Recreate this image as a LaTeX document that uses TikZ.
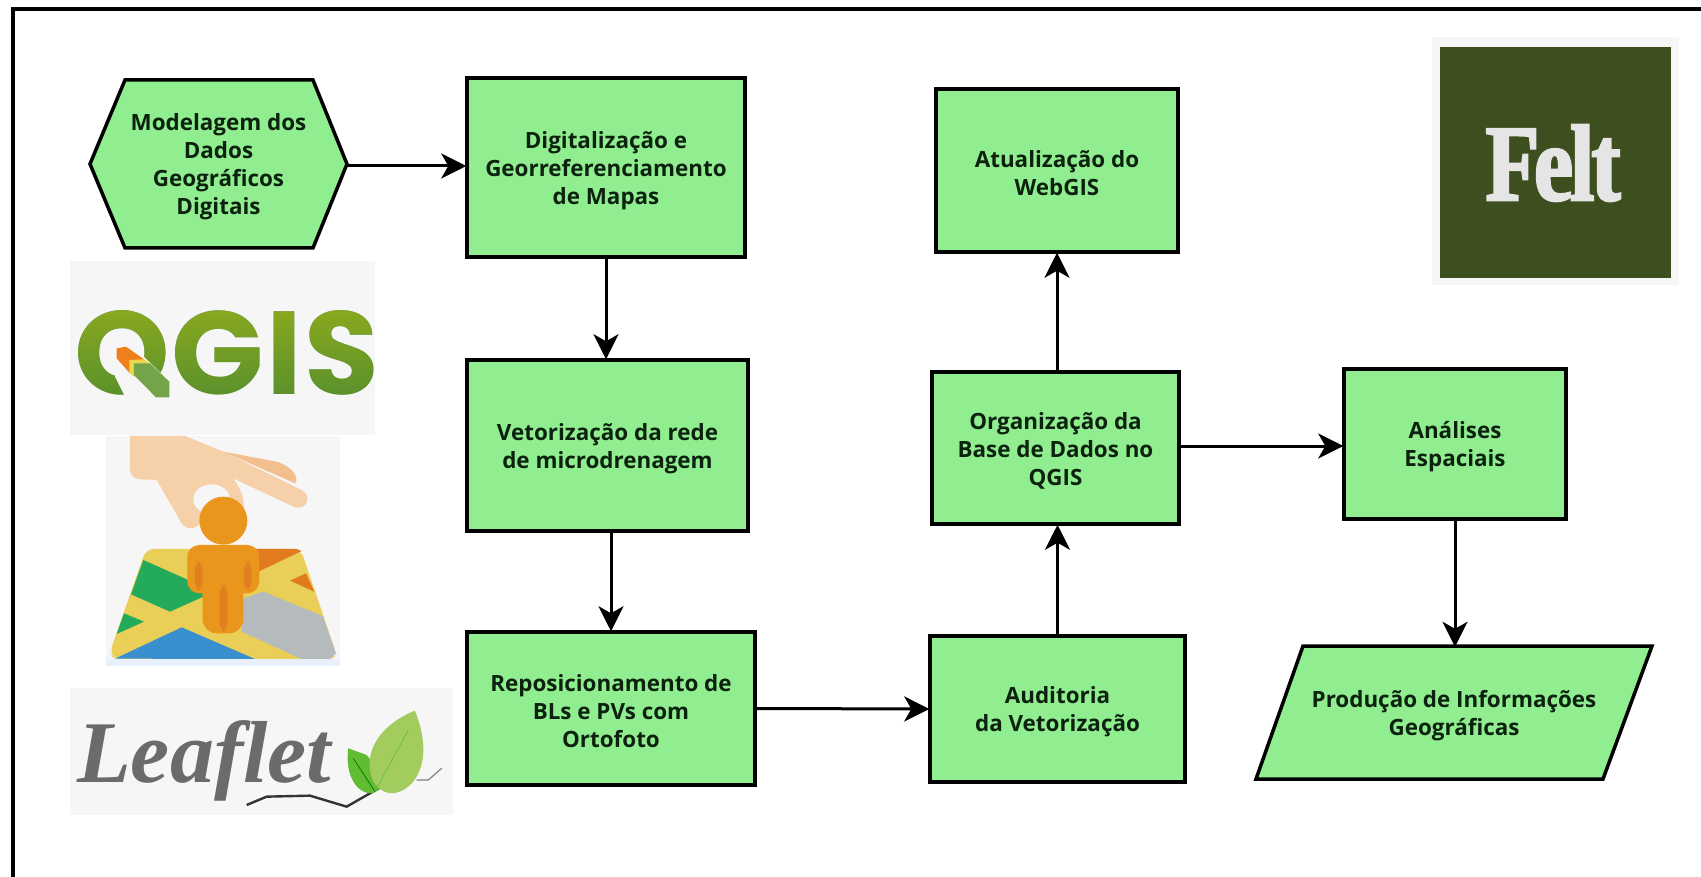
\documentclass[tikz,border=0pt]{standalone}
\usepackage{fontspec}
\setmainfont{Liberation Sans}
\newfontfamily\boxfont{Open Sans}
\newfontfamily\qgisfont{Poppins}
\newfontfamily\feltfont{Liberation Serif}[BoldFeatures={FakeBold=2.5}]
\newfontfamily\leaffont{Liberation Serif}
\usetikzlibrary{arrows.meta,calc}
\newcommand{\firstlinenudge}{\rule{0pt}{23pt}}
\definecolor{boxgreen}{HTML}{90EE90}
\definecolor{inkdark}{HTML}{0C220E}
\definecolor{panelgrey}{HTML}{F6F6F6}
\definecolor{paneledge}{HTML}{E8F0FB}
\definecolor{handskin}{HTML}{F5D0A9}
\definecolor{handshade}{HTML}{F3BF8F}
\definecolor{mapyellow}{HTML}{E9CE58}
\definecolor{mapgreen}{HTML}{23AB5B}
\definecolor{mapblue}{HTML}{3A8FCF}
\definecolor{mapgrey}{HTML}{B5BABD}
\definecolor{maporange}{HTML}{E07B1E}
\definecolor{personorange}{HTML}{EA961C}
\definecolor{personshade}{HTML}{E07F1E}
\definecolor{qorange}{HTML}{EF7F1C}
\definecolor{qyellow}{HTML}{EBD84A}
\definecolor{qgreen}{HTML}{73A44A}
\definecolor{qgistop}{HTML}{8BAA1E}
\definecolor{qgisbot}{HTML}{588F2C}
\definecolor{qgisink}{HTML}{588C1E}
\definecolor{leafgrey}{HTML}{6B6B6B}
\definecolor{leafdark}{HTML}{62BC33}
\definecolor{leaflight}{HTML}{A2CC5E}
\definecolor{feltbg}{HTML}{3D4F1E}
\definecolor{feltink}{HTML}{E5E5E5}
\tikzset{
  flowbox/.style={draw=black,line width=3.5pt,fill=boxgreen,text=inkdark,align=center,inner sep=0pt,
    font=\boxfont\bfseries\fontsize{22.4}{28}\selectfont},
  flowshape/.style={draw=black,line width=3.5pt,fill=boxgreen,line join=miter},
  flowtext/.style={text=inkdark,align=center,inner sep=0pt,
    font=\boxfont\bfseries\fontsize{22.4}{28}\selectfont},
  flowarrow/.style={draw=black,line width=3pt,-{Stealth[length=25pt,width=25pt,inset=7pt]},shorten >=-1pt},
  zoomscope/.style={x=0.33333pt,y=-0.33333pt},
}
\begin{document}
\begin{tikzpicture}[x=1pt,y=-1pt]
\useasboundingbox (0,0) rectangle (1701,877);
\fill[white] (0,0) rectangle (1701,877);
% outer frame (left and top only are in the picture)
\draw[black,line width=3.6pt] (13,877) -- (13,9) -- (1701,9);

% ---- flow shapes
\path[flowshape] (125,80) -- (313,80) -- (347,164) -- (313,248) -- (125,248) -- (90,164) -- cycle;
\node[flowtext,minimum width=257pt,minimum height=168pt] (hex) at (218.5,164)
  {\firstlinenudge Modelagem dos\\Dados\\Geográficos\\Digitais};
\node[flowbox,minimum width=278pt,minimum height=179pt] (dig) at (606,167.5)
  {\firstlinenudge Digitalização e\\Georreferenciamento\\de Mapas};
\node[flowbox,minimum width=281pt,minimum height=171pt] (vet) at (607.5,445.5)
  {\firstlinenudge Vetorização da rede\\de microdrenagem};
\node[flowbox,minimum width=288pt,minimum height=153pt] (rep) at (611,708.5)
  {\firstlinenudge Reposicionamento de\\BLs e PVs com\\Ortofoto};
\node[flowbox,minimum width=255pt,minimum height=146pt] (aud) at (1057.5,709)
  {\firstlinenudge Auditoria\\da Vetorização};
\node[flowbox,minimum width=247pt,minimum height=152pt] (org) at (1055.5,448)
  {\firstlinenudge Organização da\\Base de Dados no\\QGIS};
\node[flowbox,minimum width=242pt,minimum height=163pt] (atu) at (1057,170.5)
  {\firstlinenudge Atualização do\\WebGIS};
\node[flowbox,minimum width=222pt,minimum height=150pt] (ana) at (1455,444)
  {\firstlinenudge Análises\\Espaciais};
\path[flowshape] (1303,646) -- (1652,646) -- (1603,779) -- (1256,779) -- cycle;
\node[flowtext,minimum width=349pt,minimum height=133pt] (pro) at (1454,712.5)
  {\firstlinenudge Produção de Informações\\Geográficas};

% ---- connectors
\draw[flowarrow] (hex.east |- {$(dig.west)+(0,-1.5)$}) -- ($(dig.west)+(0,-1.5)$);
\draw[flowarrow] (dig.south) -- (dig.south |- vet.north);
\draw[flowarrow] (rep.north |- vet.south) -- (rep.north);
\draw[flowarrow] (rep.east) -- (aud.west);
\draw[flowarrow] (aud.north) -- (aud.north |- org.south);
\draw[flowarrow] (atu.south |- org.north) -- (atu.south);
\draw[flowarrow] ($(org.east |- ana.west)+(0,2)$) -- ($(ana.west)+(0,2)$);
\draw[flowarrow] (ana.south) -- (ana.south |- pro.north);

% ---- QGIS logo
\fill[panelgrey] (70,261) rectangle (375,435);
\node[anchor=base west,inner sep=0pt,text=qgisink,
  font=\qgisfont\bfseries\fontsize{118}{118}\selectfont] (qgislogo) at (74,395)
  {\scalebox{1.03}[1]{Q\kern2pt G\kern2pt I\kern2pt S}};
\begin{scope}[blend mode=lighten]
  \shade[top color=qgistop,bottom color=qgisbot] (70,305) rectangle (375,400);
\end{scope}
\begin{scope}[zoomscope]
  \fill[panelgrey] (345,1040) -- (400,1040) -- (525,1160) -- (530,1240) -- (400,1240) -- (345,1130) -- cycle;
  \fill[qorange] (350,1045) -- (378,1040) -- (432,1078) -- (388,1118) -- (350,1075) -- cycle;
  \fill[qyellow] (388,1080) -- (432,1078) -- (450,1090) -- (402,1130) -- (388,1118) -- cycle;
  \fill[qgreen] (402,1090) -- (450,1090) -- (508,1145) -- (508,1192) -- (468,1192) -- (402,1125) -- cycle;
\end{scope}

% ---- person-on-map icon
\begin{scope}[zoomscope,shift={(0,1290)}]
  \fill[panelgrey] (318,18) rectangle (1020,707);
  \fill[paneledge] (318,688) rectangle (1020,707);
  % hand
  \fill[handskin]
    (390,18) -- (555,18) -- (670,65) -- (905,180) .. controls (935,195) and (925,240) .. (885,232)
    -- (700,145) .. controls (725,180) and (735,210) .. (730,240) -- (600,280)
    .. controls (585,300) and (560,300) .. (545,280) -- (470,150) -- (425,148)
    .. controls (400,148) and (390,135) .. (390,115) -- cycle;
  \fill[panelgrey] (635,208) ellipse [x radius=55,y radius=45];
  \fill[handshade]
    (670,65) -- (830,95) .. controls (890,115) and (895,150) .. (885,160) -- cycle;
  % map
  \fill[mapyellow,rounded corners=8pt]
    (438,357) -- (902,357) -- (1010,675) -- (995,687) -- (345,687) -- (328,672) -- cycle;
  \fill[mapgreen] (430,390) -- (610,470) -- (610,500) -- (510,545) -- (393,493) -- cycle;
  \fill[mapgreen] (372,550) -- (432,575) -- (350,612) -- cycle;
  \fill[mapblue] (345,686) -- (545,592) -- (765,687) -- cycle;
  \fill[mapgrey] (790,485) -- (968,558) -- (1008,670) -- (990,687) -- (905,687) -- (725,605) -- (730,505) -- cycle;
  \fill[maporange] (765,357) -- (890,357) -- (905,363) -- (775,425) -- cycle;
  \fill[maporange] (870,452) -- (918,430) -- (943,485) -- cycle;
  % person
  \fill[personorange] (670,272) circle [radius=72];
  \fill[personorange,rounded corners=12pt] (562,345) rectangle (778,490);
  \fill[personorange,rounded corners=14pt] (608,400) rectangle (730,610);
  \fill[personshade,rounded corners=8pt] (585,395) rectangle (608,480);
  \fill[personshade,rounded corners=8pt] (732,395) rectangle (755,480);
  \fill[personshade,rounded corners=8pt] (658,465) rectangle (682,604);
\end{scope}

% ---- Leaflet logo
\fill[panelgrey] (70,688) rectangle (453,815);
\node[anchor=base west,inner sep=0pt,text=leafgrey,
  font=\leaffont\bfseries\itshape\fontsize{88}{88}\selectfont] (leaflet) at (77,782) {Leaflet};
\begin{scope}[zoomscope,shift={(0,1290)}]
  \draw[black!80,line width=2.4pt] (740,1125) -- (800,1100) -- (930,1097) -- (1040,1130) -- (1145,1070);
  \draw[black!50,line width=1.2pt] (1250,1050) -- (1285,1050) -- (1325,1015);
  \fill[leafdark]
    (1045,955) .. controls (1035,1020) and (1060,1085) .. (1110,1090) .. controls (1130,1090) and (1140,1075) .. (1140,1070)
    -- (1120,1000) -- (1100,975) -- cycle;
  \draw[green!50!black,line width=.8pt] (1060,985) -- (1125,1085);
  \fill[leaflight]
    (1245,842) .. controls (1150,880) and (1100,950) .. (1110,1020) .. controls (1115,1060) and (1140,1090) .. (1180,1090)
    .. controls (1240,1080) and (1270,1020) .. (1270,960) .. controls (1270,910) and (1255,870) .. (1245,842);
  \draw[leafdark,line width=.6pt] (1225,900) -- (1130,1075);
\end{scope}

% ---- Felt logo
\fill[panelgrey] (1432,37) rectangle (1679,285);
\fill[feltbg] (1440,47) rectangle (1671,278);
\node[anchor=base,inner sep=0pt,text=feltink,
  font=\feltfont\bfseries\fontsize{108}{108}\selectfont] (felt) at (1553,200)
  {\scalebox{.82}[1]{F\kern-7pt e\kern-4pt l\kern-4pt t}};
\end{tikzpicture}
\end{document}
